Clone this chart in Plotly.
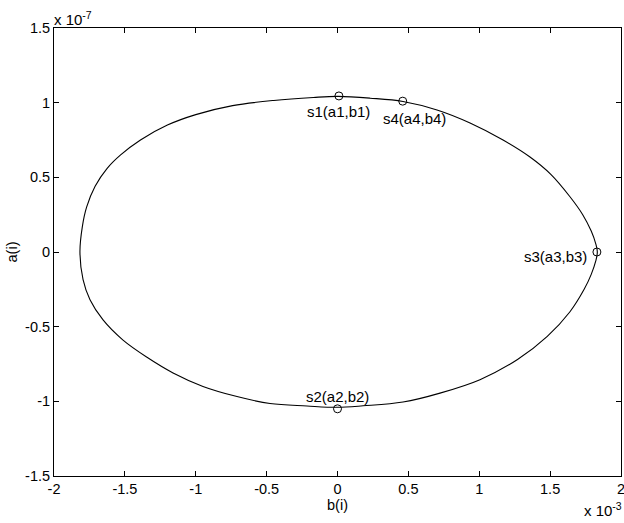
import plotly.graph_objects as go

# Curve: b in units of 1e-3, a in units of 1e-7
curve_b = [-1.817, -1.800, -1.770, -1.710, -1.625, -1.530, -1.390, -1.200, -1.000, -0.740,
           -0.450, -0.170, 0.004, 0.230, 0.462, 0.702, 0.935, 1.168, 1.358, 1.505, 1.640,
           1.730, 1.790, 1.822, 1.833, 1.822, 1.790, 1.740, 1.640, 1.480, 1.270, 1.005,
           0.723, 0.462, 0.180, -0.004, -0.215, -0.476, -0.709, -0.949, -1.160, -1.344,
           -1.513, -1.654, -1.746, -1.795, -1.817]
curve_a = [0.000, 0.170, 0.300, 0.440, 0.560, 0.650, 0.750, 0.850, 0.920, 0.980,
           1.015, 1.035, 1.042, 1.030, 1.008, 0.951, 0.864, 0.750, 0.636, 0.520, 0.370,
           0.250, 0.140, 0.055, 0.000, -0.060, -0.150, -0.250, -0.400, -0.565, -0.720, -0.855,
           -0.945, -1.005, -1.030, -1.040, -1.031, -1.015, -0.968, -0.900, -0.810, -0.705,
           -0.590, -0.455, -0.320, -0.185, 0.000]

point_names = ["s1(a1,b1)", "s2(a2,b2)", "s3(a3,b3)", "s4(a4,b4)"]
point_b = [0.01, 0.0, 1.83, 0.46]
point_a = [1.045, -1.05, 0.0, 1.01]

x_ticks = [-2, -1.5, -1, -0.5, 0, 0.5, 1, 1.5, 2]
y_ticks = [-1.5, -1, -0.5, 0, 0.5, 1, 1.5]

FONT = "Liberation Sans, Arial, Helvetica, sans-serif"

fig = go.Figure()
fig.add_trace(go.Scatter(x=curve_b, y=curve_a, mode="lines",
                         line=dict(color="black", width=1.1, shape="spline", smoothing=1.0),
                         hoverinfo="skip", showlegend=False))
fig.add_trace(go.Scatter(x=point_b, y=point_a, mode="markers",
                         marker=dict(symbol="circle-open", size=8, color="black",
                                     line=dict(width=1, color="black")),
                         showlegend=False))

label_cfg = {
    "s1(a1,b1)": dict(xanchor="center", yanchor="top", xshift=0, yshift=-5),
    "s2(a2,b2)": dict(xanchor="center", yanchor="bottom", xshift=0, yshift=2),
    "s3(a3,b3)": dict(xanchor="right", yanchor="middle", xshift=-8, yshift=-4),
    "s4(a4,b4)": dict(xanchor="center", yanchor="top", xshift=12, yshift=-7),
}
for name, bx, ay in zip(point_names, point_b, point_a):
    c = label_cfg[name]
    fig.add_annotation(x=bx, y=ay, text=name, showarrow=False,
                       font=dict(family=FONT, size=15, color="black"), **c)

fig.add_annotation(xref="paper", yref="paper", x=0.0, y=1.0, xanchor="left", yanchor="bottom",
                   text="x 10<sup>-7</sup>", showarrow=False, yshift=-2, xshift=-2,
                   font=dict(family=FONT, size=15, color="black"))
fig.add_annotation(xref="paper", yref="paper", x=1.0, y=0.0, xanchor="right", yanchor="top",
                   text="x 10<sup>-3</sup>", showarrow=False, yshift=-22, xshift=3,
                   font=dict(family=FONT, size=15, color="black"))

axis_common = dict(showgrid=False, zeroline=False, showline=True, linecolor="black",
                   linewidth=1, mirror="ticks", ticks="inside", ticklen=5, tickcolor="black",
                   automargin=False, ticklabeloverflow="allow",
                   tickfont=dict(family=FONT, size=14.5, color="black"))

fig.update_layout(
    width=624, height=523,
    margin=dict(l=54, r=3, t=28, b=47),
    paper_bgcolor="white", plot_bgcolor="white",
    font=dict(family=FONT, size=14, color="black"),
    xaxis=dict(range=[-2, 2], tickvals=x_ticks, ticktext=[f"{v:g}" for v in x_ticks],
               ticklabelstandoff=0,
               title=dict(text="b(i)", standoff=0, font=dict(family=FONT, size=14.5)),
               **axis_common),
    yaxis=dict(range=[-1.5, 1.5], tickvals=y_ticks, ticktext=[f"{v:g}" for v in y_ticks],
               title=dict(text="a(i)", standoff=4, font=dict(family=FONT, size=14.5)),
               **axis_common),
)

fig.write_html("out.html", config={"displayModeBar": False},
               post_script="document.body.style.margin='0';document.body.style.overflow='hidden';")
